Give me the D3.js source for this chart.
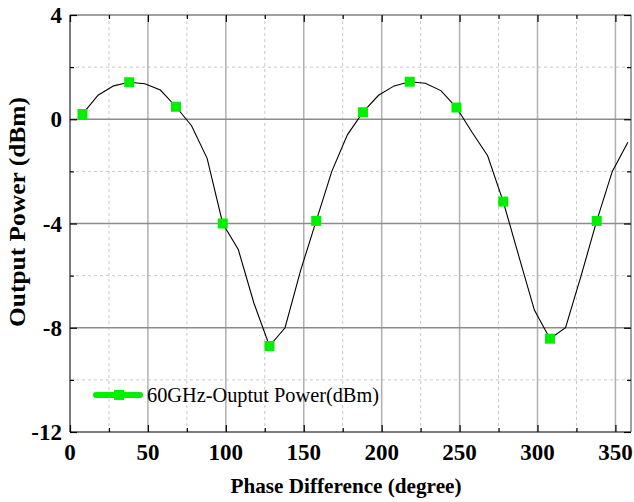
<!DOCTYPE html>
<html>
<head>
<meta charset="utf-8">
<script src="https://cdn.jsdelivr.net/npm/d3@7"></script>
<style>
  body { margin: 0; background: #fff; }
  svg { display: block; }
</style>
</head>
<body>
<div id="chart"></div>
<script>
// phase (degree) and measured output power (dBm), one point every 10 degrees
const phase = [8, 18, 28, 38, 48, 58, 68, 78, 88, 98, 108, 118,
  128, 138, 148, 158, 168, 178, 188, 198, 208, 218, 228, 238,
  248, 258, 268, 278, 288, 298, 308, 318, 328, 338, 348, 358];
const power = [0.2, 0.92, 1.28, 1.42, 1.36, 1.12, 0.48, -0.25, -1.5, -4.0, -5.0, -7.05,
  -8.7, -8.0, -5.8, -3.9, -2.0, -0.6, 0.27, 0.92, 1.28, 1.44, 1.38, 1.1,
  0.45, -0.5, -1.4, -3.16, -5.25, -7.32, -8.42, -8.0, -6.0, -3.9, -2.0, -0.88];
// a symbol is drawn on every third point
const markerStep = 3;

const xMajor = [0, 50, 100, 150, 200, 250, 300, 350];
const xMinor = [25, 75, 125, 175, 225, 275, 325];
const yMajor = [4, 0, -4, -8, -12];
const yMinor = [2, -2, -6, -10];

const seriesName = "60GHz-Ouptut Power(dBm)";
const xTitle = "Phase Difference (degree)";
const yTitle = "Output Power (dBm)";

const width = 634, height = 502;
const margin = { top: 15, right: 3, bottom: 70, left: 70 };
const green = "#00f000";

const svg = d3.select("#chart").append("svg")
  .attr("width", width)
  .attr("height", height);

const x = d3.scaleLinear().domain([0, 360]).range([margin.left, width - margin.right]);
const y = d3.scaleLinear().domain([-12, 4]).range([height - margin.bottom, margin.top]);

const x0 = x.range()[0], x1 = x.range()[1];
const y0 = y.range()[0], y1 = y.range()[1];

// ---- grid ----
const grid = svg.append("g");
grid.selectAll(".vminor").data(xMinor).enter().append("line")
  .attr("x1", d => x(d)).attr("x2", d => x(d))
  .attr("y1", y1).attr("y2", y0)
  .attr("stroke", "#c8c8c8").attr("stroke-width", 1).attr("stroke-dasharray", "3,3");
grid.selectAll(".hminor").data(yMinor).enter().append("line")
  .attr("x1", x0).attr("x2", x1)
  .attr("y1", d => y(d)).attr("y2", d => y(d))
  .attr("stroke", "#c8c8c8").attr("stroke-width", 1).attr("stroke-dasharray", "3,3");
grid.selectAll(".vmajor").data(xMajor.filter(d => d > 0)).enter().append("line")
  .attr("x1", d => x(d)).attr("x2", d => x(d))
  .attr("y1", y1).attr("y2", y0)
  .attr("stroke", "#b0b0b0").attr("stroke-width", 1.5);
grid.selectAll(".hmajor").data(yMajor.filter(d => d > -12 && d < 4)).enter().append("line")
  .attr("x1", x0).attr("x2", x1)
  .attr("y1", d => y(d)).attr("y2", d => y(d))
  .attr("stroke", "#8c8c8c").attr("stroke-width", 1.5);

// ---- frame ----
svg.append("line").attr("x1", x0).attr("x2", x1).attr("y1", y1).attr("y2", y1)
  .attr("stroke", "#808080").attr("stroke-width", 1.5);
svg.append("line").attr("x1", x1).attr("x2", x1).attr("y1", y1).attr("y2", y0)
  .attr("stroke", "#808080").attr("stroke-width", 1.5);
svg.append("line").attr("x1", x0).attr("x2", x1).attr("y1", y0).attr("y2", y0)
  .attr("stroke", "#505050").attr("stroke-width", 1.5);
svg.append("line").attr("x1", x0).attr("x2", x0).attr("y1", y1).attr("y2", y0)
  .attr("stroke", "#505050").attr("stroke-width", 1.5);

// ---- ticks (inward, all four sides) ----
function ticks(axisFn, scale, values, size, pos) {
  const g = svg.append("g")
    .attr("transform", pos)
    .call(axisFn(scale).tickValues(values).tickSize(size).tickFormat(""));
  g.select(".domain").remove();
  g.selectAll(".tick line").attr("stroke", "#000").attr("stroke-width", 1.2);
  return g;
}
ticks(d3.axisBottom, x, xMajor, -7, `translate(0,${y0})`);
ticks(d3.axisBottom, x, xMinor, -4, `translate(0,${y0})`);
ticks(d3.axisTop, x, xMajor, -7, `translate(0,${y1})`);
ticks(d3.axisTop, x, xMinor, -4, `translate(0,${y1})`);
ticks(d3.axisLeft, y, yMajor, -7, `translate(${x0},0)`);
ticks(d3.axisLeft, y, yMinor, -4, `translate(${x0},0)`);
ticks(d3.axisRight, y, yMajor, -7, `translate(${x1},0)`);
ticks(d3.axisRight, y, yMinor, -4, `translate(${x1},0)`);

// ---- tick labels ----
const labelFont = "'Liberation Serif', 'Times New Roman', serif";
svg.append("g").selectAll("text").data(xMajor).enter().append("text")
  .attr("x", d => x(d)).attr("y", y0 + 28)
  .attr("text-anchor", "middle")
  .attr("font-family", labelFont).attr("font-weight", "bold").attr("font-size", 23)
  .text(d => d);
svg.append("g").selectAll("text").data(yMajor).enter().append("text")
  .attr("x", x0 - 8).attr("y", d => y(d) + 8)
  .attr("text-anchor", "end")
  .attr("font-family", labelFont).attr("font-weight", "bold").attr("font-size", 23)
  .text(d => d);

// ---- axis titles ----
svg.append("text")
  .attr("x", 346).attr("y", 493)
  .attr("text-anchor", "middle")
  .attr("font-family", labelFont).attr("font-weight", "bold").attr("font-size", 21)
  .attr("textLength", 231).attr("lengthAdjust", "spacingAndGlyphs")
  .text(xTitle);
svg.append("text")
  .attr("transform", "translate(25,212) rotate(-90)")
  .attr("text-anchor", "middle")
  .attr("font-family", labelFont).attr("font-weight", "bold").attr("font-size", 24)
  .attr("textLength", 230).attr("lengthAdjust", "spacingAndGlyphs")
  .text(yTitle);

// ---- data ----
const pts = phase.map((p, i) => ({ p: p, v: power[i] }));
const line = d3.line().x(d => x(d.p)).y(d => y(d.v));
svg.append("path")
  .datum(pts)
  .attr("d", line)
  .attr("fill", "none")
  .attr("stroke", "#000")
  .attr("stroke-width", 1.1);

const ms = 10;
svg.append("g").selectAll("rect")
  .data(pts.filter((d, i) => i % markerStep === 0))
  .enter().append("rect")
  .attr("x", d => x(d.p) - ms / 2)
  .attr("y", d => y(d.v) - ms / 2)
  .attr("width", ms).attr("height", ms)
  .attr("fill", green);

// ---- legend ----
const leg = svg.append("g");
leg.append("line")
  .attr("x1", 96).attr("x2", 140).attr("y1", 395).attr("y2", 395)
  .attr("stroke", green).attr("stroke-width", 6).attr("stroke-linecap", "round");
leg.append("rect")
  .attr("x", 119 - ms / 2).attr("y", 395 - ms / 2)
  .attr("width", ms).attr("height", ms).attr("fill", green);
leg.append("text")
  .attr("x", 147).attr("y", 402)
  .attr("font-family", labelFont).attr("font-size", 21)
  .attr("textLength", 232).attr("lengthAdjust", "spacingAndGlyphs")
  .text(seriesName);
</script>
</body>
</html>
